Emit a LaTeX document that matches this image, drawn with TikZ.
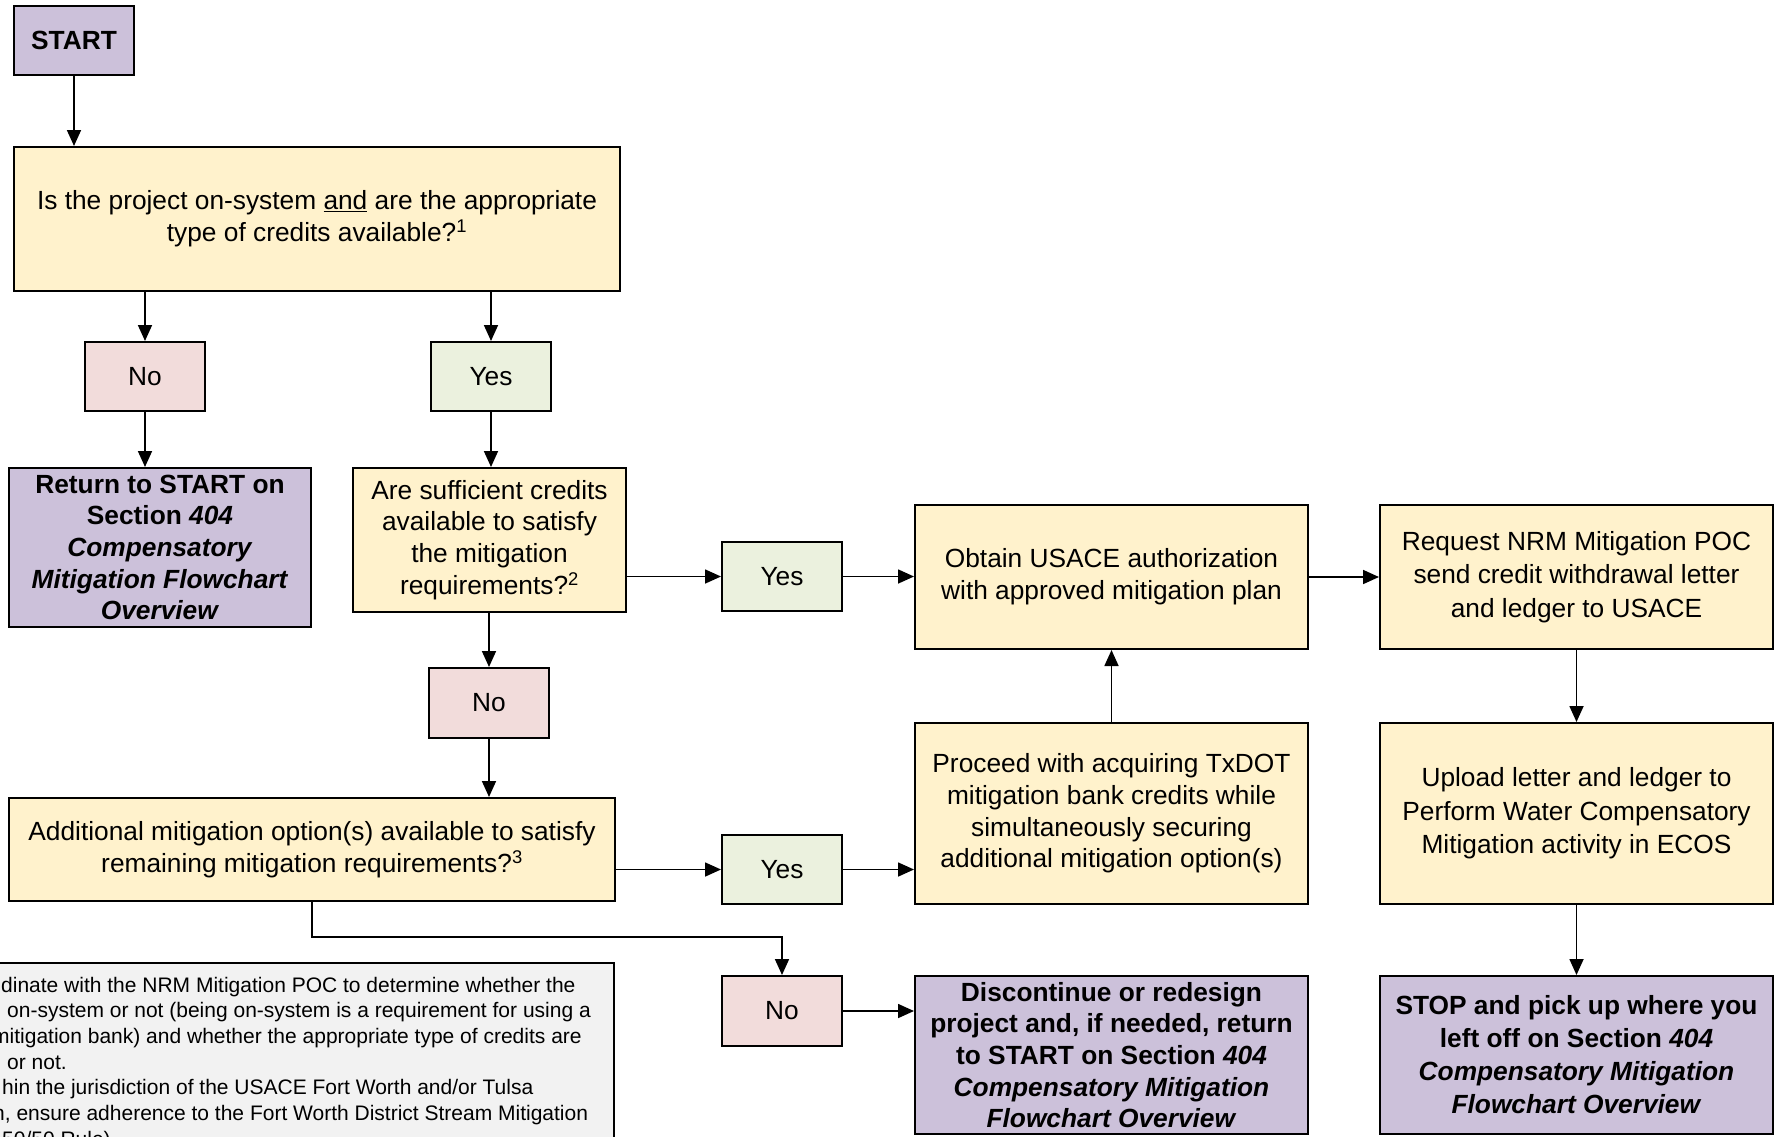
\documentclass[tikz,border=0pt]{standalone}
\usepackage{fontspec}
\setmainfont{Liberation Sans}
\usetikzlibrary{arrows.meta,calc}
\definecolor{cpurple}{HTML}{CCC1DA}
\definecolor{cyellow}{HTML}{FFF2CC}
\definecolor{cpink}{HTML}{F2DCDB}
\definecolor{cgreen}{HTML}{EBF1DE}
\definecolor{cgray}{HTML}{F2F2F2}
\newcommand\mainfs{\fontsize{26.3}{31.7}\selectfont}
\newcommand\notefs{\fontsize{21}{25.6}\selectfont}
\begin{document}
\begin{tikzpicture}[x=1pt,y=-1pt,
  box/.style={draw=black,line width=2pt,align=center,inner sep=0pt,font=\mainfs},
  qbox/.style={box,fill=cyellow},
  endbox/.style={box,fill=cpurple,font=\mainfs\bfseries},
  nobox/.style={box,fill=cpink,minimum width=120pt,minimum height=69pt},
  yesbox/.style={box,fill=cgreen,minimum width=120pt,minimum height=69pt},
  arr/.style={line width=1.7pt,-{Triangle[length=16pt,width=14pt]}},
  noteline/.style={anchor=base west,inner sep=0pt,font=\notefs}]
\useasboundingbox (0,0) rectangle (1775,1136);
\clip (0,0) rectangle (1775,1136);

\node[endbox,minimum width=120pt,minimum height=69pt] (start) at (74,40.5) {START};
\node[qbox,minimum width=606pt,minimum height=144pt] (q1) at (317,219)
  {Is the project on-system \underline{and} are the appropriate\\type of credits available?\textsuperscript{1}};
\node[nobox] (no1) at (145,376.5) {No};
\node[yesbox] (yes1) at (491,376.5) {Yes};
\node[endbox,minimum width=302pt,minimum height=159pt] (ret) at (160,547.5)
  {Return to START on\\Section \textit{404}\\\textit{Compensatory}\\\textit{Mitigation Flowchart}\\\textit{Overview}};
\node[qbox,minimum width=273pt,minimum height=144pt] (q2) at (489.5,540)
  {Are sufficient credits\\available to satisfy\\the mitigation\\requirements?\textsuperscript{2}};
\node[yesbox] (yes2) at (782,576.5) {Yes};
\node[qbox,minimum width=393pt,minimum height=144pt] (obtain) at (1111.5,577)
  {Obtain USACE authorization\\with approved mitigation plan};
\node[qbox,minimum width=393pt,minimum height=144pt,font=\fontsize{26.3}{33.5}\selectfont] (request) at (1576.5,577)
  {Request NRM Mitigation POC\\send credit withdrawal letter\\and ledger to USACE};
\node[nobox,minimum height=70pt] (no2) at (489,703) {No};
\node[qbox,minimum width=606pt,minimum height=103pt] (q3) at (312,849.5)
  {Additional mitigation option(s) available to satisfy\\remaining mitigation requirements?\textsuperscript{3}};
\node[yesbox] (yes3) at (782,869.5) {Yes};
\node[qbox,minimum width=393pt,minimum height=181pt] (proceed) at (1111.5,813.5)
  {Proceed with acquiring TxDOT\\mitigation bank credits while\\simultaneously securing\\additional mitigation option(s)};
\node[qbox,minimum width=393pt,minimum height=181pt,font=\fontsize{26.3}{33.5}\selectfont] (upload) at (1576.5,813.5)
  {Upload letter and ledger to\\Perform Water Compensatory\\Mitigation activity in ECOS};
\node[nobox,minimum height=70pt] (no3) at (782,1011) {No};
\node[endbox,minimum width=393pt,minimum height=158pt] (disc) at (1111.5,1055)
  {Discontinue or redesign\\project and, if needed, return\\to START on Section \textit{404}\\\textit{Compensatory Mitigation}\\\textit{Flowchart Overview}};
\node[endbox,minimum width=393pt,minimum height=158pt,font=\fontsize{26.3}{33}\selectfont\bfseries] (stop) at (1576.5,1055)
  {STOP and pick up where you\\left off on Section \textit{404}\\\textit{Compensatory Mitigation}\\\textit{Flowchart Overview}};

% notes box (cut by the page edges)
\node[draw=black,fill=cgray,line width=2pt,minimum width=634pt,minimum height=207pt,inner sep=0pt] (notes) at (297,1066.5) {};
\node[noteline] (n1) at (1,992) {dinate with the NRM Mitigation POC to determine whether the};
\node[noteline] (n2) at (7,1017.5) {on-system or not (being on-system is a requirement for using a};
\node[noteline] (n3) at (-8,1043) {mitigation bank) and whether the appropriate type of credits are};
\node[noteline] (n4) at (7,1069) {or not.};
\node[noteline] (n5) at (2,1094.5) {hin the jurisdiction of the USACE Fort Worth and/or Tulsa};
\node[noteline] (n6) at (-7,1120) {n, ensure adherence to the Fort Worth District Stream Mitigation};
\node[noteline] (n7) at (2,1146) {50/50 Rule).};

% connectors
\draw[arr] (start.south) -- (start.south |- q1.north);
\draw[arr] (q1.south -| no1) -- (no1.north);
\draw[arr] (q1.south -| yes1) -- (yes1.north);
\draw[arr] (no1.south) -- (no1.south |- ret.north);
\draw[arr] (yes1.south) -- (yes1.south |- q2.north);
\draw[arr] (q2.east |- yes2) -- (yes2.west);
\draw[arr] (yes2.east) -- (yes2.east -| obtain.west);
\draw[arr] (obtain.east) -- (request.west);
\draw[arr] (q2.south -| no2) -- (no2.north);
\draw[arr] (no2.south) -- (no2.south |- q3.north);
\draw[arr] (q3.east |- yes3) -- (yes3.west);
\draw[arr] (yes3.east) -- (yes3.east -| proceed.west);
\draw[arr] (proceed.north) -- (obtain.south);
\draw[arr] (request.south) -- (upload.north);
\draw[arr] (upload.south) -- (stop.north);
\coordinate (qbend) at (782,937);
\draw[arr] (q3.south) |- (qbend) -- (no3.north);
\draw[arr] (no3.east) -- (no3.east -| disc.west);
\end{tikzpicture}
\end{document}
